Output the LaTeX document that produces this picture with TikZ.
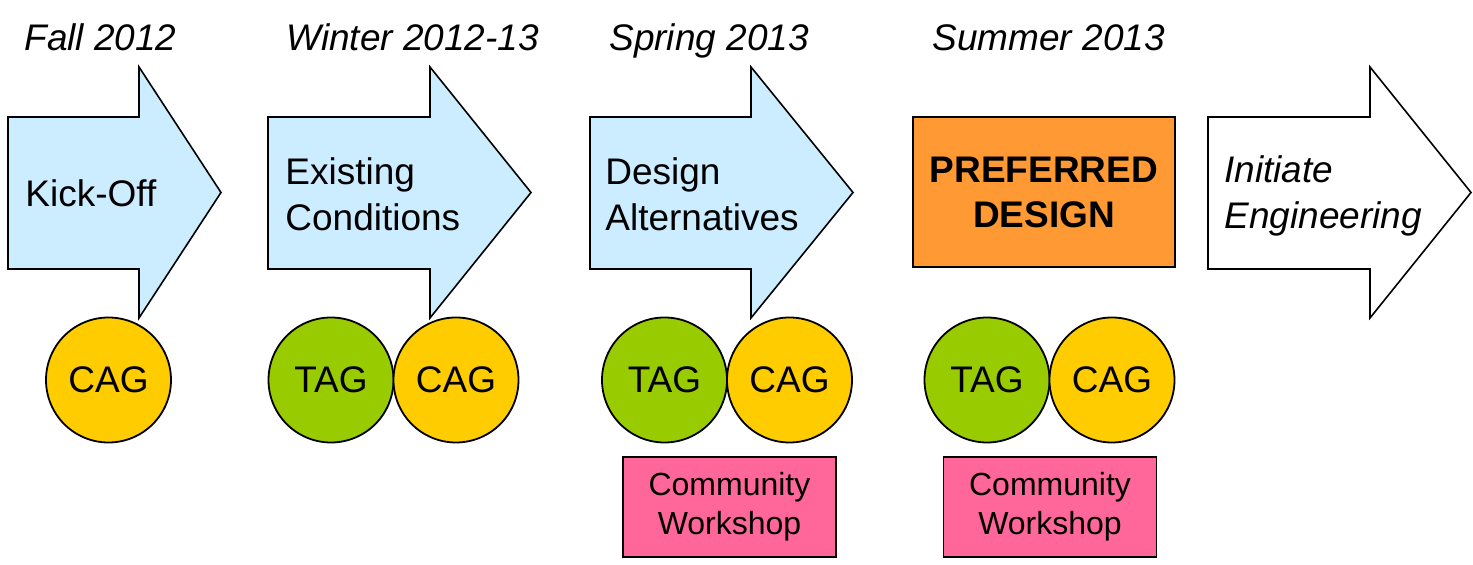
\documentclass[tikz,border=0pt]{standalone}
\usepackage{fontspec}
\setmainfont{Liberation Sans}
\usepackage{xcolor}
\usepackage{tikz}
\usetikzlibrary{positioning}

\definecolor{phaseblue}{HTML}{CCECFF}
\definecolor{taggreen}{HTML}{99CC00}
\definecolor{cagyellow}{HTML}{FFCC00}
\definecolor{preforange}{HTML}{FF9933}
\definecolor{wshoppink}{HTML}{FF6699}

\begin{document}
\begin{tikzpicture}[
  x=0.5pt, y=-0.5pt,
  font=\fontsize{18.5}{23}\selectfont,
  season/.style={anchor=base west, inner sep=0pt,
    font=\fontsize{18.5}{23}\selectfont\itshape},
  phase/.style={draw=black, line width=0.8pt, line join=miter, fill=phaseblue},
  phasetext/.style={anchor=west, inner sep=0pt, align=left},
  group/.style={circle, draw=black, line width=0.9pt, minimum size=62.5pt,
    inner sep=0pt, outer sep=0pt},
  tag/.style={group, fill=taggreen},
  cag/.style={group, fill=cagyellow},
  wshop/.style={draw=black, line width=0.9pt, fill=wshoppink,
    minimum width=106.5pt, minimum height=50pt, align=center,
    font=\fontsize{16}{19.5}\selectfont},
  pref/.style={draw=black, line width=1.4pt, fill=preforange,
    minimum width=131pt, minimum height=75pt, align=center,
    font=\fontsize{18.5}{22.5}\selectfont\bfseries},
]
  \useasboundingbox (0,0) rectangle (1473,565);

  \foreach \l/\n/\t/\c in {8/139/221/phaseblue, 268/430/531/phaseblue,
                           590/751/853/phaseblue, 1208/1370/1471/white}
    \draw[phase, fill=\c] (\l,117) -- (\n,117) -- (\n,67) -- (\t,192.5)
      -- (\n,318) -- (\n,269) -- (\l,269) -- cycle;

  \node[season] (fall)   at (24,51)  {Fall 2012};
  \node[season] (winter) at (286,51) {Winter 2012-13};
  \node[season] (spring) at (609,51) {Spring 2013};
  \node[season] (summer) at (932,51) {Summer 2013};

  \node[phasetext] (kick)  at (25,193)  {Kick-Off};
  \node[phasetext] (exist) at (285,194) {Existing\\Conditions};
  \node[phasetext] (alt)   at (605,194) {Design\\Alternatives};
  \node[pref]      (prefd) at (1044,192) {PREFERRED\\DESIGN};
  \node[phasetext, font=\fontsize{18.5}{23}\selectfont\itshape] (eng)
    at (1224,196) {Initiate\\Engineering};

  \node[cag] (cag1) at (108.5,380) {CAG};
  \node[tag] (tag2) at (331,380) {TAG};
  \node[cag, right=0pt of tag2] (cag2) {CAG};
  \node[tag] (tag3) at (664.5,380) {TAG};
  \node[cag, right=0pt of tag3] (cag3) {CAG};
  \node[tag] (tag4) at (987,380) {TAG};
  \node[cag, right=0pt of tag4] (cag4) {CAG};

  \node[wshop] (ws3) at (729.5,507) {Community\\Workshop};
  \node[wshop] (ws4) at (1050,507)  {Community\\Workshop};
\end{tikzpicture}
\end{document}
